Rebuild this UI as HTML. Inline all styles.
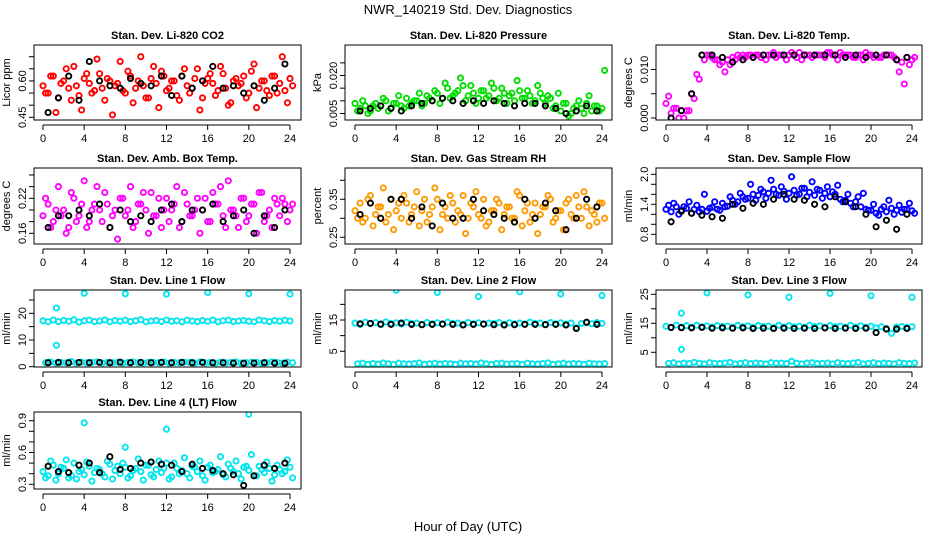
<!DOCTYPE html>
<html><head><meta charset="utf-8"><style>
body{margin:0;background:#fff;}
svg{display:block;font-family:"Liberation Sans",sans-serif;}
</style></head><body>
<svg id="chart" width="936" height="540" viewBox="0 0 936 540">
<rect width="936" height="540" fill="#fff"/>
<text x="468" y="14" text-anchor="middle" font-size="13">NWR_140219  Std. Dev. Diagnostics</text>
<text x="468" y="531" text-anchor="middle" font-size="13">Hour of Day (UTC)</text>
</svg>
<script>
// ---- data (hours: A at 0..24 step .5, B at .25..24.25 step .5, black at .5..23.5 step 1) ----
const p1A=[0.58,0.55,0.62,0.53,0.60,0.57,0.66,0.54,0.61,0.59,0.56,0.63,0.52,0.60,0.58,0.68,0.55,0.62,0.57,0.70,0.53,0.61,0.59,0.64,0.56,0.60,0.54,0.62,0.58,0.57,0.65,0.53,0.61,0.59,0.56,0.63,0.50,0.60,0.58,0.62,0.55,0.67,0.57,0.60,0.54,0.62,0.59,0.56,0.61];
const p1B=[0.55,0.62,0.47,0.59,0.65,0.52,0.58,0.48,0.63,0.55,0.69,0.57,0.61,0.46,0.59,0.56,0.64,0.51,0.60,0.58,0.53,0.66,0.49,0.62,0.57,0.60,0.52,0.65,0.55,0.61,0.48,0.59,0.63,0.54,0.66,0.57,0.51,0.61,0.59,0.53,0.64,0.49,0.60,0.56,0.62,0.55,0.70,0.51,0.58];
const p1K=[0.47,0.53,0.62,0.52,0.68,0.60,0.58,0.57,0.61,0.59,0.58,0.62,0.54,0.62,0.57,0.60,0.66,0.57,0.58,0.55,0.58,0.52,0.57,0.67];
const p2A=[.009,.007,.008,.006,.009,.008,.010,.007,.009,.008,.011,.009,.010,.008,.012,.010,.013,.011,.015,.012,.014,.016,.012,.013,.011,.014,.012,.015,.011,.013,.012,.010,.014,.011,.012,.010,.013,.009,.011,.008,.006,.009,.005,.008,.007,.009,.006,.008,.007];
const p2B=[.006,.010,.005,.008,.007,.011,.006,.009,.012,.007,.008,.010,.013,.009,.011,.014,.009,.017,.011,.013,.019,.010,.016,.009,.014,.011,.017,.010,.015,.009,.013,.018,.011,.014,.009,.016,.011,.012,.007,.013,.009,.004,.007,.010,.005,.012,.008,.006,.022];
const p2K=[.006,.007,.008,.007,.006,.008,.009,.010,.011,.010,.009,.010,.009,.010,.009,.008,.009,.009,.008,.007,.005,.006,.008,.006];
const p3A=[.003,.001,.002,.0015,.0015,.005,.009,.013,.013,.0125,.012,.0115,.012,.0125,.013,.013,.013,.0125,.013,.013,.013,.0135,.013,.013,.013,.013,.0135,.013,.013,.013,.013,.0125,.0135,.013,.0135,.013,.013,.0125,.013,.0135,.013,.013,.0125,.013,.013,.012,.0115,.0125,.012];
const p3B=[.0045,.002,.000,.000,.0015,.004,.008,.012,.013,.012,.011,.0095,.011,.012,.0125,.0125,.013,.013,.0125,.012,.013,.0125,.013,.012,.0135,.0125,.012,.013,.0125,.013,.013,.0135,.013,.012,.013,.013,.0125,.013,.012,.013,.0125,.0125,.013,.013,.0125,.0095,.007,.011,.0125];
const p3K=[.000,.0015,.005,.013,.013,.0125,.0115,.012,.0125,.013,.013,.013,.013,.013,.013,.013,.013,.0125,.013,.0125,.013,.013,.012,.0125];
const p4A=[.19,.21,.18,.24,.20,.17,.22,.19,.25,.18,.21,.20,.23,.17,.20,.22,.19,.24,.18,.21,.20,.23,.19,.17,.22,.20,.24,.18,.21,.19,.22,.20,.18,.23,.21,.19,.25,.20,.17,.22,.19,.21,.23,.18,.20,.22,.19,.21,.20];
const p4B=[.22,.17,.20,.19,.16,.23,.18,.21,.17,.20,.24,.18,.21,.19,.15,.22,.20,.17,.21,.23,.16,.19,.22,.20,.18,.21,.17,.23,.19,.20,.16,.22,.18,.21,.24,.17,.20,.19,.22,.18,.21,.16,.23,.19,.17,.21,.22,.18,.21];
const p4K=[.17,.19,.19,.20,.19,.21,.17,.20,.18,.19,.18,.20,.21,.18,.20,.20,.21,.18,.19,.20,.16,.19,.17,.20];
const p5A=[.32,.34,.30,.36,.31,.33,.29,.35,.32,.30,.34,.31,.37,.32,.29,.33,.35,.31,.30,.34,.32,.36,.30,.33,.31,.35,.29,.32,.34,.31,.33,.30,.36,.32,.29,.34,.31,.33,.35,.30,.32,.34,.31,.36,.30,.33,.32,.29,.34];
const p5B=[.30,.29,.35,.28,.33,.38,.31,.27,.34,.36,.29,.33,.28,.35,.31,.38,.27,.33,.36,.29,.31,.26,.34,.37,.30,.28,.32,.35,.27,.33,.30,.37,.28,.34,.31,.26,.33,.36,.29,.32,.27,.35,.30,.33,.37,.28,.31,.34,.30];
const p5K=[.31,.34,.30,.35,.35,.30,.33,.28,.34,.30,.30,.35,.32,.31,.30,.29,.35,.30,.34,.32,.27,.30,.35,.33];
const p6A=[1.30,1.25,1.35,1.28,1.32,1.22,1.38,1.30,1.26,1.34,1.30,1.42,1.36,1.48,1.45,1.55,1.52,1.60,1.58,1.65,1.62,1.70,1.58,1.66,1.62,1.68,1.60,1.72,1.64,1.58,1.68,1.62,1.55,1.60,1.50,1.48,1.42,1.45,1.35,1.30,1.28,1.22,1.30,1.25,1.32,1.28,1.24,1.30,1.27];
const p6B=[1.38,1.42,1.20,1.35,1.45,1.30,1.25,1.60,1.32,1.45,1.28,1.35,1.55,1.40,1.62,1.50,1.80,1.48,1.70,1.52,1.88,1.60,1.75,1.50,1.95,1.58,1.72,1.55,1.85,1.70,1.52,1.75,1.65,1.78,1.45,1.60,1.35,1.55,1.62,1.28,1.40,1.18,1.35,1.48,1.20,1.38,1.30,1.42,1.22];
const p6K=[1.05,1.26,1.22,1.18,1.15,1.12,1.40,1.32,1.42,1.40,1.50,1.60,1.50,1.48,1.40,1.35,1.55,1.45,1.35,1.20,0.95,1.08,0.90,1.20];
const p7A=[17.2,16.8,17.5,16.9,17.3,17.0,17.6,16.7,17.2,17.4,16.9,17.1,17.5,16.8,17.3,17.0,17.4,16.9,17.2,17.6,16.8,17.1,17.3,16.9,17.5,17.0,17.2,16.8,17.4,17.1,16.9,17.3,17.0,17.5,16.8,17.2,17.4,16.9,17.1,17.3,17.0,16.8,17.5,17.2,16.9,17.3,17.0,17.4,17.1];
const p7B=[1.5,1.8,1.4,1.6,1.5,1.9,1.4,1.7,1.5,1.6,1.8,1.4,1.6,1.5,1.7,1.4,1.6,1.8,1.5,1.4,1.7,1.6,1.5,1.8,1.4,1.6,1.5,1.7,1.6,1.4,1.8,1.5,1.6,1.4,1.7,1.5,1.6,1.8,1.4,1.5,1.7,1.6,1.4,1.5,1.8,1.6,1.4,1.7,1.5];
const p7K=[1.5,1.6,1.5,1.6,1.5,1.6,1.5,1.7,1.5,1.6,1.5,1.6,1.5,1.6,1.5,1.6,1.5,1.5,1.4,1.3,1.4,1.5,1.4,1.3];
const p7OX=[1.3,1.3,4,8,12,16,20,24];
const p7OY=[22,8,27.5,27.3,27.2,27.8,27.3,27.2];
const p8A=[14.0,13.6,14.3,13.8,14.2,13.5,14.4,13.9,14.1,13.7,14.3,13.9,14.0,13.6,14.2,13.8,14.1,13.7,14.3,13.9,14.0,13.6,14.2,13.8,14.1,13.7,14.0,13.9,14.2,13.6,14.1,13.8,14.0,13.7,14.3,13.9,14.0,13.6,14.2,13.8,14.1,13.7,14.0,12.5,13.9,14.1,13.8,14.2,13.9];
const p8B=[1.0,1.2,0.8,1.1,0.9,1.3,1.0,0.8,1.2,1.0,0.9,1.1,1.3,0.8,1.0,1.2,0.9,1.1,1.0,0.8,1.2,1.0,1.1,0.9,1.3,1.0,0.8,1.1,1.2,0.9,1.0,1.1,0.8,1.2,1.0,0.9,1.1,1.3,0.8,1.0,1.2,0.9,1.1,1.0,0.8,1.2,1.0,0.9,1.1];
const p8K=[13.8,13.9,13.7,13.6,14.0,13.6,13.5,13.6,13.7,13.6,13.4,13.6,13.7,13.5,13.4,13.5,13.6,13.6,13.5,13.6,13.4,12.3,14.3,13.6];
const p8OX=[4,8,12,16,20,24];
const p8OY=[24.5,23.8,22.5,24.0,23.3,22.8];
const p9A=[14.0,13.5,14.4,13.7,14.2,13.6,14.3,13.8,14.1,13.6,14.2,13.9,14.0,13.5,14.3,13.8,14.1,13.6,14.2,13.9,14.0,13.5,14.3,13.7,14.2,13.8,14.0,13.6,14.3,13.9,14.1,13.5,14.2,13.8,14.0,13.6,14.3,13.7,14.1,13.6,14.0,13.4,13.8,13.2,11.5,13.7,13.9,13.6,13.8];
const p9B=[1.2,1.4,1.0,1.3,1.1,1.5,1.2,1.0,1.4,1.2,1.1,1.3,1.5,1.0,1.2,1.4,1.1,1.3,1.2,1.0,1.4,1.2,1.3,1.1,1.9,1.2,1.0,1.3,1.4,1.1,1.2,1.3,1.0,1.4,1.2,1.1,1.3,1.5,1.0,1.2,1.4,1.1,1.3,1.2,1.0,1.4,1.2,1.1,1.3];
const p9K=[13.6,13.5,13.4,13.6,13.3,13.4,13.3,13.4,13.2,13.3,13.2,13.3,13.2,13.3,13.2,13.4,13.2,13.3,13.2,13.3,11.8,13.0,13.0,13.2];
const p9OX=[1.5,1.5,4,8,12,16,20,24];
const p9OY=[18.5,6,25.5,24.8,24.0,25.3,24.5,24.0];
const p10A=[0.42,0.38,0.48,0.40,0.45,0.36,0.50,0.42,0.39,0.47,0.41,0.44,0.37,0.49,0.43,0.40,0.46,0.38,0.45,0.42,0.48,0.39,0.44,0.41,0.50,0.37,0.45,0.43,0.40,0.47,0.42,0.38,0.46,0.41,0.44,0.39,0.49,0.42,0.40,0.46,0.43,0.38,0.47,0.41,0.45,0.39,0.44,0.42,0.46];
const p10B=[0.36,0.52,0.34,0.46,0.53,0.38,0.35,0.44,0.51,0.33,0.45,0.40,0.52,0.35,0.47,0.50,0.36,0.43,0.54,0.34,0.48,0.37,0.52,0.45,0.35,0.50,0.40,0.55,0.36,0.46,0.52,0.34,0.48,0.42,0.56,0.37,0.45,0.52,0.35,0.47,0.58,0.38,0.44,0.51,0.33,0.48,0.40,0.53,0.36];
const p10K=[0.47,0.42,0.41,0.48,0.50,0.41,0.56,0.44,0.45,0.50,0.51,0.49,0.48,0.42,0.49,0.45,0.43,0.40,0.39,0.29,0.38,0.48,0.45,0.50];
const p10OX=[4,8,12,20];
const p10OY=[0.88,0.65,0.82,0.96];

const panels=[
 {title:"Stan. Dev. Li-820 CO2",ylab:"Licor ppm",c:0,r:0,v0:0.45,y0:117.3,v1:0.70,y1:56.7,ticks:[0.45,0.50,0.55,0.60,0.65,0.70],labs:["0.45","0.60"],labv:[0.45,0.60],col:"#ff0000",A:p1A,B:p1B,K:p1K},
 {title:"Stan. Dev. Li-820 Pressure",ylab:"kPa",c:1,r:0,v0:0.005,y0:113.5,v1:0.020,y1:75.5,ticks:[0.005,0.010,0.015,0.020,0.025],labs:["0.005","0.020"],labv:[0.005,0.020],col:"#00dd00",A:p2A,B:p2B,K:p2K},
 {title:"Stan. Dev. Li-820 Temp.",ylab:"degrees C",c:2,r:0,v0:0,y0:118,v1:0.010,y1:69.5,ticks:[0,0.005,0.010],labs:["0.000","0.010"],labv:[0,0.010],col:"#ff00ff",A:p3A,B:p3B,K:p3K},
 {title:"Stan. Dev. Amb. Box Temp.",ylab:"degrees C",c:0,r:1,v0:0.16,y0:233.3,v1:0.22,y1:198.3,ticks:[0.16,0.18,0.20,0.22,0.24,0.26],labs:["0.16","0.22"],labv:[0.16,0.22],col:"#ff00ff",A:p4A,B:p4B,K:p4K},
 {title:"Stan. Dev. Gas Stream RH",ylab:"percent",c:1,r:1,v0:0.25,y0:237.3,v1:0.35,y1:199.3,ticks:[0.25,0.30,0.35,0.40],labs:["0.25","0.35"],labv:[0.25,0.35],col:"#ff9900",A:p5A,B:p5B,K:p5K},
 {title:"Stan. Dev. Sample Flow",ylab:"ml/min",c:2,r:1,v0:0.8,y0:234.3,v1:2.0,y1:174.3,ticks:[0.8,1.0,1.2,1.4,1.6,1.8,2.0],labs:["0.8","1.4","2.0"],labv:[0.8,1.4,2.0],col:"#0000ff",A:p6A,B:p6B,K:p6K},
 {title:"Stan. Dev. Line 1 Flow",ylab:"ml/min",c:0,r:2,v0:0,y0:366.7,v1:20,y1:313.3,ticks:[0,5,10,15,20,25],labs:["0","10","20"],labv:[0,10,20],col:"#00e5ee",A:p7A,B:p7B,K:p7K,OX:p7OX,OY:p7OY},
 {title:"Stan. Dev. Line 2 Flow",ylab:"ml/min",c:1,r:2,v0:5,y0:351.3,v1:15,y1:320,ticks:[5,10,15,20],labs:["5","15"],labv:[5,15],col:"#00e5ee",A:p8A,B:p8B,K:p8K,OX:p8OX,OY:p8OY},
 {title:"Stan. Dev. Line 3 Flow",ylab:"ml/min",c:2,r:2,v0:5,y0:352.3,v1:25,y1:294.3,ticks:[5,10,15,20,25],labs:["5","15","25"],labv:[5,15,25],col:"#00e5ee",A:p9A,B:p9B,K:p9K,OX:p9OX,OY:p9OY},
 {title:"Stan. Dev. Line 4 (LT) Flow",ylab:"ml/min",c:0,r:3,v0:0.3,y0:484.3,v1:0.9,y1:420.7,ticks:[0.3,0.4,0.5,0.6,0.7,0.8,0.9],labs:["0.3","0.6","0.9"],labv:[0.3,0.6,0.9],col:"#00e5ee",A:p10A,B:p10B,K:p10K,OX:p10OX,OY:p10OY}
];
const xticks=[0,4,8,12,16,20,24];
const cols=[[34,301,43,290],[345,612,355,602],[656,922,666,912]];
const rows=[[45,120],[168,244],[290,367],[412,489]];
const NS="http://www.w3.org/2000/svg";
const svg=document.getElementById('chart');
function mk(tag,attrs,parent){const e=document.createElementNS(NS,tag);for(const k in attrs)e.setAttribute(k,attrs[k]);parent.appendChild(e);return e;}
panels.forEach((p,pi)=>{
  const [bl,br,x0,x1]=cols[p.c];const [bt,bb]=rows[p.r];
  const xs=h=>x0+(x1-x0)*h/24;
  const ys=v=>p.y0+(v-p.v0)*(p.y1-p.y0)/(p.v1-p.v0);
  const g=mk('g',{},svg);
  
  
  const t=mk('text',{x:(bl+br)/2,y:bt-6,'text-anchor':'middle','font-size':11,'font-weight':'bold'},g);t.textContent=p.title;
  
  
  const yl=mk('text',{x:0,y:0,transform:`translate(${bl-24},${(bt+bb)/2}) rotate(-90)`,'text-anchor':'middle','font-size':11},g);yl.textContent=p.ylab;
  
  
  const clip='clip'+pi;
  const cp=mk('clipPath',{id:clip},g);mk('rect',{x:bl,y:bt,width:br-bl,height:bb-bt},cp);
  const pg=mk('g',{'clip-path':`url(#${clip})`},g);
  function dot(h,v,color,nm){
    const c=mk('circle',{cx:xs(h).toFixed(1),cy:ys(v).toFixed(1),r:2.6,fill:'none',stroke:color,'stroke-width':1.9},pg);
    
    
  }
  p.A.forEach((v,i)=>dot(i*0.5,v,p.col,'series-point'));
  p.B.forEach((v,i)=>dot(i*0.5+0.25,v,p.col,'series-point'));
  if(p.OX)p.OX.forEach((h,i)=>dot(h,p.OY[i],p.col,'outlier-point'));
  p.K.forEach((v,i)=>dot(i+0.5,v,'#000','black-point'));
  const bx=mk('rect',{x:bl,y:bt,width:br-bl,height:bb-bt,fill:'none',stroke:'#000','stroke-width':1},g);
  
  
  const ax=mk('g',{stroke:'#000','stroke-width':1},g);
  
  
  mk('line',{x1:xs(0),x2:xs(24),y1:bb+5,y2:bb+5},ax);
  xticks.forEach(h=>{
    mk('line',{x1:xs(h),x2:xs(h),y1:bb+5,y2:bb+10},ax);
    const tl=mk('text',{x:xs(h),y:bb+22,'text-anchor':'middle','font-size':11,stroke:'none',fill:'#000'},g);tl.textContent=h;
    
    
  });
  const ay=mk('g',{stroke:'#000','stroke-width':1},g);
  
  
  mk('line',{x1:bl,x2:bl,y1:ys(p.ticks[0]),y2:ys(p.ticks[p.ticks.length-1])},ay);
  p.ticks.forEach(v=>mk('line',{x1:bl-5,x2:bl,y1:ys(v),y2:ys(v)},ay));
  p.labv.forEach((v,i)=>{
    const tl=mk('text',{x:0,y:0,transform:`translate(${bl-8},${ys(v)}) rotate(-90)`,'text-anchor':'middle','font-size':11},g);tl.textContent=p.labs[i];
    
    
  });
});
</script>
</body></html>
